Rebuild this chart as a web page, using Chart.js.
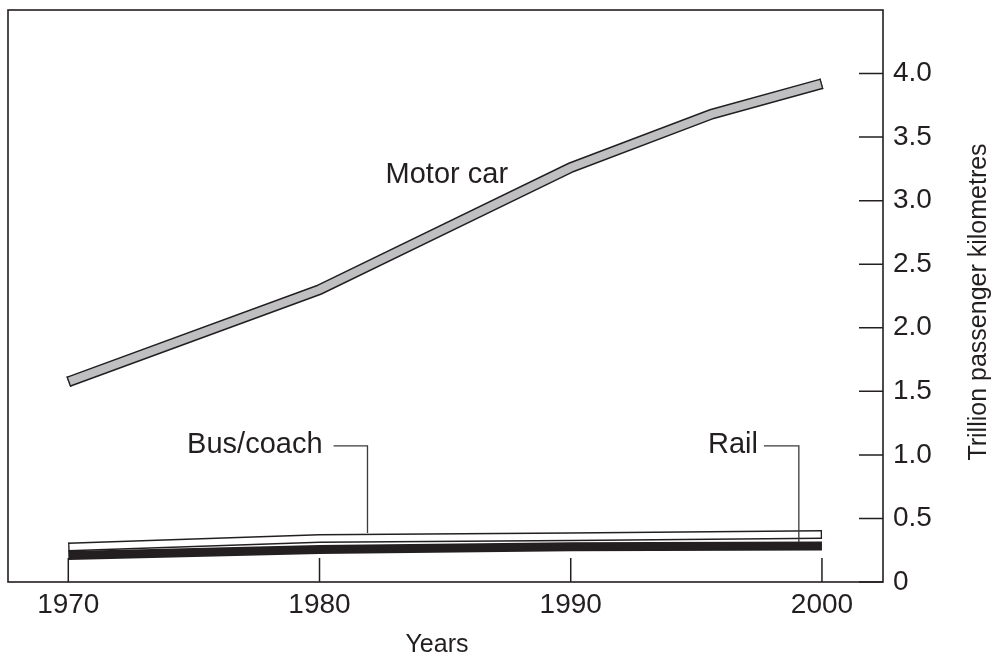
<!DOCTYPE html>
<html><head><meta charset="utf-8">
<script src="https://cdn.jsdelivr.net/npm/chart.js@4/dist/chart.umd.min.js"></script>
<style>html,body{margin:0;padding:0;background:#fff;}canvas{display:block;}</style>
</head><body>
<canvas id="c" width="993" height="657"></canvas>
<script>
// ---- data ----
const carYears = [1970, 1980, 1990, 1995.6, 2000];
const carValues = [1.575, 2.30, 3.26, 3.68, 3.92];
const years = [1970, 1980, 1990, 2000];
const busValues = [0.276, 0.343, 0.356, 0.374];
const railValues = [0.209, 0.256, 0.278, 0.283];
const xTickYears = [1970, 1980, 1990, 2000];
const yTickValues = [0, 0.5, 1, 1.5, 2, 2.5, 3, 3.5, 4];
const yTickLabels = ['0', '0.5', '1.0', '1.5', '2.0', '2.5', '3.0', '3.5', '4.0'];
const seriesLabels = ['Motor car', 'Bus/coach', 'Rail'];
const xTitle = 'Years';
const yTitle = 'Trillion passenger kilometres';

// ---- styling ----
const FONT = '"Liberation Sans", Arial, Helvetica, sans-serif';
const INK = '#231f20';
const CAR_FILL = '#bfbfc1';
const CAR_W = 11, BUS_W = 9, RAIL_W = 9;
const pts = (xs, ys) => xs.map((x, i) => ({x: x, y: ys[i]}));
function ds(data, color, width, order) {
  return {data: data, borderColor: color, borderWidth: width, pointRadius: 0, tension: 0,
          fill: false, order: order, borderCapStyle: 'butt', borderJoinStyle: 'miter'};
}

// outline the cut ends of a band (perpendicular to its end segment)
function endCap(ctx, xs, ys, X, Y, i, j, w) {
  const x0 = xs.getPixelForValue(X[i]), y0 = ys.getPixelForValue(Y[i]);
  const x1 = xs.getPixelForValue(X[j]), y1 = ys.getPixelForValue(Y[j]);
  const dx = x1 - x0, dy = y1 - y0, L = Math.hypot(dx, dy);
  const nx = -dy / L * w / 2, ny = dx / L * w / 2;
  const ox = dx / L * 0.6, oy = dy / L * 0.6;
  ctx.moveTo(x0 - nx + ox, y0 - ny + oy);
  ctx.lineTo(x0 + nx + ox, y0 + ny + oy);
}

const decor = {
  id: 'decor',
  afterDatasetsDraw(chart) {
    const ctx = chart.ctx;
    const xs = chart.scales.x, ys = chart.scales.y;
    ctx.save();
    ctx.strokeStyle = INK;
    ctx.lineWidth = 1.3;
    ctx.beginPath();
    const n = carYears.length, m = years.length;
    endCap(ctx, xs, ys, carYears, carValues, 0, 1, CAR_W);
    endCap(ctx, xs, ys, carYears, carValues, n - 1, n - 2, CAR_W);
    endCap(ctx, xs, ys, years, busValues, 0, 1, BUS_W);
    endCap(ctx, xs, ys, years, busValues, m - 1, m - 2, BUS_W);
    ctx.stroke();
    ctx.restore();
  },
  afterDraw(chart) {
    const ctx = chart.ctx, a = chart.chartArea;
    const xs = chart.scales.x, ys = chart.scales.y;
    ctx.save();
    ctx.strokeStyle = INK;
    ctx.lineWidth = 1.6;
    ctx.strokeRect(a.left, a.top, a.right - a.left, a.bottom - a.top);
    // inward ticks
    ctx.lineWidth = 1.5;
    ctx.beginPath();
    yTickValues.forEach(v => { const p = ys.getPixelForValue(v); ctx.moveTo(a.right - 24, p); ctx.lineTo(a.right, p); });
    xTickYears.forEach(v => { const p = xs.getPixelForValue(v); ctx.moveTo(p, a.bottom); ctx.lineTo(p, a.bottom - 24); });
    ctx.stroke();

    // annotations
    ctx.fillStyle = INK;
    ctx.font = '29px ' + FONT;
    ctx.textBaseline = 'alphabetic';
    ctx.textAlign = 'left';
    ctx.fillText(seriesLabels[0], xs.getPixelForValue(1982.63), ys.getPixelForValue(3.142));
    ctx.textAlign = 'right';
    ctx.fillText(seriesLabels[1], xs.getPixelForValue(1980.12), ys.getPixelForValue(1.016));
    ctx.fillText(seriesLabels[2], xs.getPixelForValue(1997.45), ys.getPixelForValue(1.016));

    // leader lines
    ctx.strokeStyle = '#3a3a3a';
    ctx.lineWidth = 1.3;
    ctx.beginPath();
    ctx.moveTo(xs.getPixelForValue(1980.56), ys.getPixelForValue(1.071));
    ctx.lineTo(xs.getPixelForValue(1981.91), ys.getPixelForValue(1.071));
    ctx.lineTo(xs.getPixelForValue(1981.91), ys.getPixelForValue(0.386));
    ctx.moveTo(xs.getPixelForValue(1997.69), ys.getPixelForValue(1.071));
    ctx.lineTo(xs.getPixelForValue(1999.08), ys.getPixelForValue(1.071));
    ctx.lineTo(xs.getPixelForValue(1999.08), ys.getPixelForValue(0.315));
    ctx.stroke();

    // axis titles
    ctx.fillStyle = INK;
    ctx.font = '25px ' + FONT;
    ctx.textAlign = 'center';
    ctx.fillText(xTitle, 437, 652);
    ctx.translate(986, (a.top + a.bottom) / 2 + 6);
    ctx.rotate(-Math.PI / 2);
    ctx.fillText(yTitle, 0, 0);
    ctx.restore();
  }
};

new Chart(document.getElementById('c').getContext('2d'), {
  type: 'line',
  data: {
    datasets: [
      ds(pts(years, railValues), INK, RAIL_W, 6),
      ds(pts(years, busValues), INK, BUS_W, 5),
      ds(pts(years, busValues), '#ffffff', BUS_W - 3, 4),
      ds(pts(carYears, carValues), INK, CAR_W, 3),
      ds(pts(carYears, carValues), CAR_FILL, CAR_W - 3, 2)
    ]
  },
  options: {
    responsive: false,
    animation: false,
    devicePixelRatio: 1,
    layout: {padding: {left: 8, top: 10, right: 0, bottom: 0}},
    plugins: {legend: {display: false}, tooltip: {enabled: false}},
    scales: {
      x: {
        type: 'linear', min: 1967.6, max: 2002.43,
        grid: {display: false, drawTicks: false}, border: {display: false},
        afterBuildTicks: s => { s.ticks = xTickYears.map(v => ({value: v})); },
        ticks: {autoSkip: false, maxRotation: 0, padding: 6, color: INK,
                font: {family: FONT, size: 28}, callback: v => String(v)},
        afterFit: s => { s.height = 75; s.paddingLeft = 0; s.paddingRight = 0; }
      },
      y: {
        type: 'linear', position: 'right', min: 0, max: 4.5,
        grid: {display: false, drawTicks: false}, border: {display: false},
        afterBuildTicks: s => { s.ticks = yTickValues.map(v => ({value: v})); },
        ticks: {padding: 10, color: INK, font: {family: FONT, size: 28},
                callback: v => yTickLabels[yTickValues.indexOf(v)]},
        afterFit: s => { s.width = 110; s.paddingTop = 0; s.paddingBottom = 0; }
      }
    }
  },
  plugins: [decor]
});
</script>
</body></html>
